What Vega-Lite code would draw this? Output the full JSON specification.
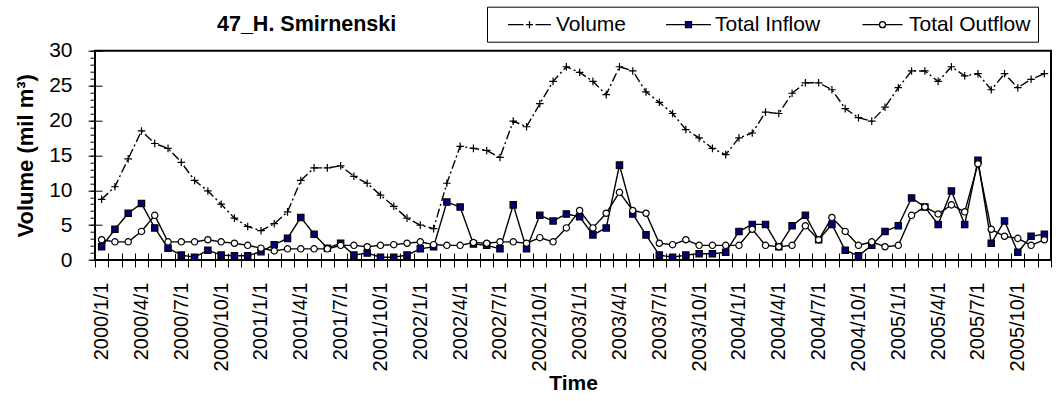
{
  "$schema": "https://vega.github.io/schema/vega-lite/v6.json",
  "width": 956,
  "height": 209.3,
  "autosize": {"type": "none"},
  "padding": {"left": 95, "top": 50.7, "right": 5, "bottom": 141},
  "background": "white",
  "title": {"text": "47_H. Smirnenski", "anchor": "start", "frame": "group", "dx": 122, "offset": -46, "fontSize": 21.5, "fontWeight": "bold", "font": "Liberation Sans", "color": "black", "baseline": "alphabetic"},
  "data": {"values": [
    {"t": "2000/1/1", "Volume": 8.7, "Total Inflow": 1.9, "Total Outflow": 2.9},
    {"t": "2000/2/1", "Volume": 10.5, "Total Inflow": 4.4, "Total Outflow": 2.6},
    {"t": "2000/3/1", "Volume": 14.5, "Total Inflow": 6.7, "Total Outflow": 2.6},
    {"t": "2000/4/1", "Volume": 18.5, "Total Inflow": 8.1, "Total Outflow": 4.1},
    {"t": "2000/5/1", "Volume": 16.7, "Total Inflow": 4.6, "Total Outflow": 6.4},
    {"t": "2000/6/1", "Volume": 16.0, "Total Inflow": 1.7, "Total Outflow": 2.6},
    {"t": "2000/7/1", "Volume": 14.0, "Total Inflow": 0.7, "Total Outflow": 2.6},
    {"t": "2000/8/1", "Volume": 11.4, "Total Inflow": 0.4, "Total Outflow": 2.6},
    {"t": "2000/9/1", "Volume": 9.9, "Total Inflow": 1.4, "Total Outflow": 2.9},
    {"t": "2000/10/1", "Volume": 8.0, "Total Inflow": 0.7, "Total Outflow": 2.6},
    {"t": "2000/11/1", "Volume": 6.0, "Total Inflow": 0.6, "Total Outflow": 2.4},
    {"t": "2000/12/1", "Volume": 4.8, "Total Inflow": 0.6, "Total Outflow": 2.1},
    {"t": "2001/1/1", "Volume": 4.2, "Total Inflow": 1.2, "Total Outflow": 1.7},
    {"t": "2001/2/1", "Volume": 5.2, "Total Inflow": 2.2, "Total Outflow": 1.3},
    {"t": "2001/3/1", "Volume": 6.9, "Total Inflow": 3.1, "Total Outflow": 1.6},
    {"t": "2001/4/1", "Volume": 11.4, "Total Inflow": 6.1, "Total Outflow": 1.6},
    {"t": "2001/5/1", "Volume": 13.2, "Total Inflow": 3.7, "Total Outflow": 1.6},
    {"t": "2001/6/1", "Volume": 13.2, "Total Inflow": 1.7, "Total Outflow": 1.6},
    {"t": "2001/7/1", "Volume": 13.5, "Total Inflow": 2.4, "Total Outflow": 2.1},
    {"t": "2001/8/1", "Volume": 12.0, "Total Inflow": 0.7, "Total Outflow": 2.1},
    {"t": "2001/9/1", "Volume": 11.0, "Total Inflow": 1.0, "Total Outflow": 1.9},
    {"t": "2001/10/1", "Volume": 9.3, "Total Inflow": 0.4, "Total Outflow": 2.1},
    {"t": "2001/11/1", "Volume": 7.7, "Total Inflow": 0.4, "Total Outflow": 2.2},
    {"t": "2001/12/1", "Volume": 6.0, "Total Inflow": 0.7, "Total Outflow": 2.4},
    {"t": "2002/1/1", "Volume": 5.0, "Total Inflow": 1.6, "Total Outflow": 2.6},
    {"t": "2002/2/1", "Volume": 4.5, "Total Inflow": 1.9, "Total Outflow": 2.2},
    {"t": "2002/3/1", "Volume": 11.0, "Total Inflow": 8.3, "Total Outflow": 2.1},
    {"t": "2002/4/1", "Volume": 16.3, "Total Inflow": 7.6, "Total Outflow": 2.1},
    {"t": "2002/5/1", "Volume": 16.0, "Total Inflow": 2.3, "Total Outflow": 2.5},
    {"t": "2002/6/1", "Volume": 15.7, "Total Inflow": 2.1, "Total Outflow": 2.4},
    {"t": "2002/7/1", "Volume": 14.7, "Total Inflow": 1.6, "Total Outflow": 2.6},
    {"t": "2002/8/1", "Volume": 19.9, "Total Inflow": 7.9, "Total Outflow": 2.6},
    {"t": "2002/9/1", "Volume": 19.1, "Total Inflow": 1.6, "Total Outflow": 2.4},
    {"t": "2002/10/1", "Volume": 22.4, "Total Inflow": 6.4, "Total Outflow": 3.2},
    {"t": "2002/11/1", "Volume": 25.6, "Total Inflow": 5.6, "Total Outflow": 2.6},
    {"t": "2002/12/1", "Volume": 27.7, "Total Inflow": 6.6, "Total Outflow": 4.6},
    {"t": "2003/1/1", "Volume": 26.9, "Total Inflow": 6.2, "Total Outflow": 7.1},
    {"t": "2003/2/1", "Volume": 25.6, "Total Inflow": 3.6, "Total Outflow": 4.6},
    {"t": "2003/3/1", "Volume": 23.7, "Total Inflow": 4.6, "Total Outflow": 6.7},
    {"t": "2003/4/1", "Volume": 27.7, "Total Inflow": 13.6, "Total Outflow": 9.7},
    {"t": "2003/5/1", "Volume": 27.1, "Total Inflow": 6.6, "Total Outflow": 7.1},
    {"t": "2003/6/1", "Volume": 24.1, "Total Inflow": 3.6, "Total Outflow": 6.7},
    {"t": "2003/7/1", "Volume": 22.6, "Total Inflow": 0.7, "Total Outflow": 2.4},
    {"t": "2003/8/1", "Volume": 21.0, "Total Inflow": 0.4, "Total Outflow": 2.2},
    {"t": "2003/9/1", "Volume": 18.7, "Total Inflow": 0.7, "Total Outflow": 2.9},
    {"t": "2003/10/1", "Volume": 17.5, "Total Inflow": 0.9, "Total Outflow": 2.1},
    {"t": "2003/11/1", "Volume": 16.0, "Total Inflow": 0.9, "Total Outflow": 2.1},
    {"t": "2003/12/1", "Volume": 15.1, "Total Inflow": 1.1, "Total Outflow": 2.1},
    {"t": "2004/1/1", "Volume": 17.5, "Total Inflow": 4.1, "Total Outflow": 2.1},
    {"t": "2004/2/1", "Volume": 18.2, "Total Inflow": 5.1, "Total Outflow": 4.4},
    {"t": "2004/3/1", "Volume": 21.2, "Total Inflow": 5.1, "Total Outflow": 2.1},
    {"t": "2004/4/1", "Volume": 21.0, "Total Inflow": 1.9, "Total Outflow": 1.9},
    {"t": "2004/5/1", "Volume": 23.9, "Total Inflow": 4.9, "Total Outflow": 2.1},
    {"t": "2004/6/1", "Volume": 25.4, "Total Inflow": 6.4, "Total Outflow": 4.9},
    {"t": "2004/7/1", "Volume": 25.4, "Total Inflow": 2.9, "Total Outflow": 2.9},
    {"t": "2004/8/1", "Volume": 24.4, "Total Inflow": 5.1, "Total Outflow": 6.1},
    {"t": "2004/9/1", "Volume": 21.7, "Total Inflow": 1.4, "Total Outflow": 4.1},
    {"t": "2004/10/1", "Volume": 20.4, "Total Inflow": 0.6, "Total Outflow": 2.1},
    {"t": "2004/11/1", "Volume": 19.9, "Total Inflow": 2.1, "Total Outflow": 2.6},
    {"t": "2004/12/1", "Volume": 21.9, "Total Inflow": 4.1, "Total Outflow": 1.9},
    {"t": "2005/1/1", "Volume": 24.7, "Total Inflow": 4.9, "Total Outflow": 2.1},
    {"t": "2005/2/1", "Volume": 27.1, "Total Inflow": 8.9, "Total Outflow": 6.4},
    {"t": "2005/3/1", "Volume": 27.1, "Total Inflow": 7.6, "Total Outflow": 7.6},
    {"t": "2005/4/1", "Volume": 25.6, "Total Inflow": 5.1, "Total Outflow": 6.6},
    {"t": "2005/5/1", "Volume": 27.7, "Total Inflow": 9.9, "Total Outflow": 7.9},
    {"t": "2005/6/1", "Volume": 26.4, "Total Inflow": 5.1, "Total Outflow": 6.9},
    {"t": "2005/7/1", "Volume": 26.7, "Total Inflow": 14.3, "Total Outflow": 13.8},
    {"t": "2005/8/1", "Volume": 24.4, "Total Inflow": 2.4, "Total Outflow": 4.4},
    {"t": "2005/9/1", "Volume": 26.7, "Total Inflow": 5.6, "Total Outflow": 3.4},
    {"t": "2005/10/1", "Volume": 24.7, "Total Inflow": 1.1, "Total Outflow": 3.1},
    {"t": "2005/11/1", "Volume": 25.9, "Total Inflow": 3.4, "Total Outflow": 2.1},
    {"t": "2005/12/1", "Volume": 26.7, "Total Inflow": 3.7, "Total Outflow": 2.9}
  ]},
  "transform": [{"fold": ["Volume", "Total Inflow", "Total Outflow"], "as": ["s", "v"]}],
  "resolve": {"axis": {"y": "independent"}, "scale": {"shape": "independent", "fill": "independent", "stroke": "independent"}},
  "layer": [
    {
      "mark": {"type": "line", "strokeWidth": 1.4, "color": "black"},
      "encoding": {
        "x": {"field": "t", "type": "ordinal", "sort": null,
          "scale": {"type": "band", "paddingInner": 0, "paddingOuter": 0},
          "axis": {"offset": -7, "tickSize": 14, "tickBand": "extent", "domain": false, "grid": false,
            "labelAngle": 270, "labelPadding": 15, "labelFontSize": 20, "labelFont": "Liberation Sans", "labelColor": "black",
            "labelOverlap": false,
            "labelExpr": "indexof(['1','4','7','10'], split(datum.value, '/')[1]) >= 0 ? datum.value : ''",
            "tickColor": "black", "tickWidth": 1,
            "title": "Time", "titleFontSize": 21, "titleFontWeight": "bold", "titleFont": "Liberation Sans", "titleColor": "black", "titlePadding": 2}},
        "y": {"field": "v", "type": "quantitative",
          "scale": {"domain": [0, 30], "nice": false, "zero": true},
          "axis": {"orient": "left", "values": [0, 5, 10, 15, 20, 25, 30], "offset": -7, "tickSize": 14, "domain": false, "grid": false,
            "labelPadding": 16, "labelFontSize": 21, "labelFont": "Liberation Sans", "labelColor": "black",
            "tickColor": "black", "tickWidth": 1,
            "title": "Volume (mil m³)", "titleFontSize": 22, "titleFontWeight": "bold", "titleFont": "Liberation Sans", "titleColor": "black",
            "titleX": -70, "titleBaseline": "alphabetic"}},
        "detail": {"field": "s", "type": "nominal"},
        "strokeDash": {"field": "s", "type": "nominal",
          "scale": {"domain": ["Total Inflow", "Total Outflow", "Volume"], "range": [[1, 0], [1, 0], [9, 3, 2, 3]]},
          "legend": null}
      }
    },
    {
      "mark": {"type": "point", "filled": true, "stroke": "black", "strokeWidth": 1.2, "size": 40, "opacity": 1},
      "encoding": {
        "x": {"field": "t", "type": "ordinal", "sort": null,
          "scale": {"type": "band", "paddingInner": 0, "paddingOuter": 0}},
        "y": {"field": "v", "type": "quantitative",
          "axis": {"orient": "left", "values": [0,1,2,3,4,5,6,7,8,9,10,11,12,13,14,15,16,17,18,19,20,21,22,23,24,25,26,27,28,29,30],
            "tickSize": 5, "labels": false, "domain": false, "grid": false, "title": null, "offset": 0, "tickColor": "black", "tickWidth": 1}},
        "shape": {"field": "s", "type": "nominal",
          "scale": {"domain": ["Volume", "Total Inflow", "Total Outflow"], "range": ["M-1.2,0H1.2M0,-1.2V1.2", "square", "circle"]},
          "legend": null},
        "fill": {"field": "s", "type": "nominal",
          "scale": {"domain": ["Volume", "Total Inflow", "Total Outflow"], "range": ["black", "#000080", "white"]},
          "legend": null}
      }
    },
    {
      "transform": [{"filter": "datum.v < -100"}],
      "mark": {"type": "point", "filled": true, "strokeWidth": 1.3},
      "encoding": {
        "shape": {"field": "s", "type": "nominal",
          "scale": {"domain": ["Volume", "Total Inflow", "Total Outflow"],
            "range": ["M-2.15,0H-0.6M-0.35,0H0.35M0,-0.35V0.35M0.6,0H2.15", "M-2.25,0H-0.3M0.3,0H2.25M-0.3,-0.3H0.3V0.3H-0.3Z", "M-2,0H-0.3M0.3,0H2M-0.3,0A0.3,0.3 0 1,1 0.3,0A0.3,0.3 0 1,1 -0.3,0Z"]},
          "legend": {"title": null, "orient": "none", "legendX": 392, "legendY": -44, "direction": "horizontal", "columns": 3,
            "strokeColor": "black", "fillColor": "white", "padding": 7, "columnPadding": 26, "labelOffset": 15.5, "symbolOffset": 24.5,
            "symbolSize": 400, "symbolStrokeWidth": 1.3, "symbolOpacity": 1,
            "labelFontSize": 21, "labelFont": "Liberation Sans", "labelColor": "black", "labelLimit": 300}},
        "fill": {"field": "s", "type": "nominal",
          "scale": {"domain": ["Volume", "Total Inflow", "Total Outflow"], "range": ["white", "#000080", "white"]},
          "legend": {"title": null, "orient": "none", "legendX": 392, "legendY": -44, "direction": "horizontal", "columns": 3,
            "strokeColor": "black", "fillColor": "white", "padding": 7, "columnPadding": 26, "labelOffset": 15.5, "symbolOffset": 24.5,
            "symbolSize": 400, "symbolStrokeWidth": 1.3, "symbolOpacity": 1,
            "labelFontSize": 21, "labelFont": "Liberation Sans", "labelColor": "black", "labelLimit": 300}},
        "stroke": {"field": "s", "type": "nominal",
          "scale": {"domain": ["Volume", "Total Inflow", "Total Outflow"], "range": ["black", "black", "black"]},
          "legend": {"title": null, "orient": "none", "legendX": 392, "legendY": -44, "direction": "horizontal", "columns": 3,
            "strokeColor": "black", "fillColor": "white", "padding": 7, "columnPadding": 26, "labelOffset": 15.5, "symbolOffset": 24.5,
            "symbolSize": 400, "symbolStrokeWidth": 1.3, "symbolOpacity": 1,
            "labelFontSize": 21, "labelFont": "Liberation Sans", "labelColor": "black", "labelLimit": 300}}
      }
    }
  ],
  "config": {
    "view": {"stroke": "black", "strokeWidth": 2},
    "font": "Liberation Sans"
  }
}
